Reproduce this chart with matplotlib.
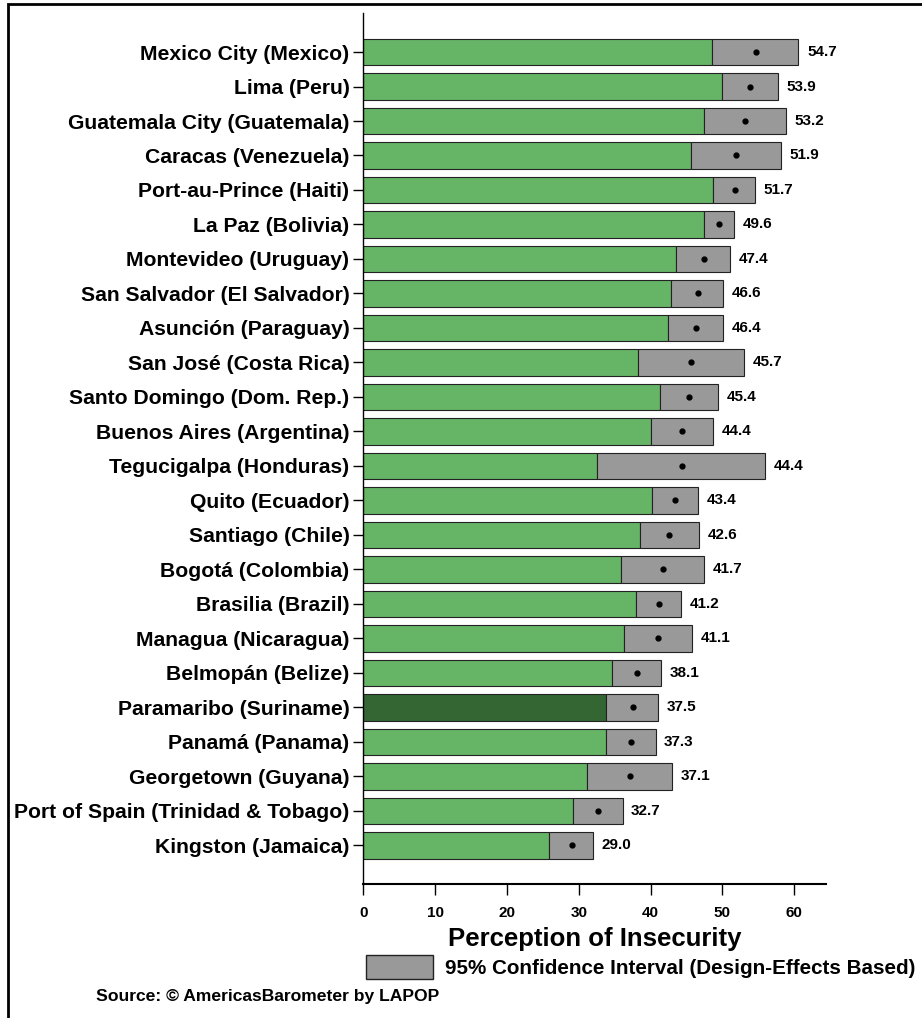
import matplotlib
matplotlib.use("Agg")
import matplotlib.pyplot as plt
from matplotlib.patches import Rectangle

plt.rcParams['font.family'] = ['Liberation Sans', 'DejaVu Sans']
plt.rcParams['font.weight'] = 'bold'

# Data (top to bottom)
cities = ["Mexico City (Mexico)", "Lima (Peru)", "Guatemala City (Guatemala)",
          "Caracas (Venezuela)", "Port-au-Prince (Haiti)", "La Paz (Bolivia)",
          "Montevideo (Uruguay)", "San Salvador (El Salvador)", "Asunción (Paraguay)",
          "San José (Costa Rica)", "Santo Domingo (Dom. Rep.)", "Buenos Aires (Argentina)",
          "Tegucigalpa (Honduras)", "Quito (Ecuador)", "Santiago (Chile)",
          "Bogotá (Colombia)", "Brasilia (Brazil)", "Managua (Nicaragua)",
          "Belmopán (Belize)", "Paramaribo (Suriname)", "Panamá (Panama)",
          "Georgetown (Guyana)", "Port of Spain (Trinidad & Tobago)", "Kingston (Jamaica)"]
means = [54.7, 53.9, 53.2, 51.9, 51.7, 49.6, 47.4, 46.6, 46.4, 45.7, 45.4, 44.4,
         44.4, 43.4, 42.6, 41.7, 41.2, 41.1, 38.1, 37.5, 37.3, 37.1, 32.7, 29.0]
ci_low = [48.6, 49.9, 47.4, 45.7, 48.7, 47.4, 43.6, 42.9, 42.5, 38.2, 41.3, 40.1,
          32.6, 40.2, 38.6, 35.9, 38.0, 36.3, 34.7, 33.8, 33.8, 31.2, 29.2, 25.9]
ci_high = [60.6, 57.7, 58.8, 58.1, 54.5, 51.6, 51.1, 50.1, 50.1, 53.0, 49.4, 48.7,
           56.0, 46.6, 46.7, 47.4, 44.3, 45.8, 41.4, 41.0, 40.7, 43.0, 36.1, 32.0]
highlight = "Paramaribo (Suriname)"

green = "#66b466"
dark_green = "#336633"
grey = "#999999"

fig = plt.figure(figsize=(9.22, 10.18), dpi=100)
ax = fig.add_axes([0.394, 0.1316, 0.5016, 0.8556])

ypos = list(range(len(cities)))
colors = [dark_green if c == highlight else green for c in cities]
ax.barh(ypos, ci_low, height=0.77, color=colors, edgecolor="#222222", linewidth=0.8)
widths = [h - l for l, h in zip(ci_low, ci_high)]
ax.barh(ypos, widths, left=ci_low, height=0.77, color=grey, edgecolor="#222222", linewidth=0.8)
ax.plot(means, ypos, "o", color="black", markersize=3.5)

for y, m, h in zip(ypos, means, ci_high):
    ax.text(h + 1.2, y, f"{m:.1f}", va="center", ha="left", fontsize=11, fontweight="bold")

ax.set_yticks(ypos)
ax.set_yticklabels(cities, fontsize=15.2, fontweight="bold")
ax.set_ylim(len(cities) - 1 + 1.12, -1.13)
ax.set_xlim(0, 64.4)
ax.set_xticks([0, 10, 20, 30, 40, 50, 60])
ax.tick_params(axis="x", direction="out", length=8, width=1, labelsize=11, pad=8)
ax.tick_params(axis="y", direction="out", length=7, width=1, pad=3)
for lbl in ax.get_xticklabels():
    lbl.set_fontweight("bold")
ax.spines["top"].set_visible(False)
ax.spines["right"].set_visible(False)
ax.spines["left"].set_linewidth(1)
ax.spines["bottom"].set_linewidth(1.5)
ax.set_xlabel("Perception of Insecurity", fontsize=18.5, fontweight="bold", labelpad=5)

# legend patch and text
fig.add_artist(Rectangle((366 / 922, 1 - 979 / 1018), 67 / 922, 24 / 1018,
                         facecolor=grey, edgecolor="#222222", linewidth=1,
                         transform=fig.transFigure))
fig.text(445 / 922, 1 - 968 / 1018, "95% Confidence Interval (Design-Effects Based)",
         ha="left", va="center", fontsize=14.9, fontweight="bold")
fig.text(96 / 922, 1 - 997 / 1018, "Source: © AmericasBarometer by LAPOP",
         ha="left", va="center", fontsize=12.6, fontweight="bold")

# outer frame, cut off on the right and bottom
fig.add_artist(Rectangle((8 / 922, -0.1), 1.2, 1.1 - 4 / 1018, fill=False,
                         edgecolor="black", linewidth=2.0, transform=fig.transFigure,
                         clip_on=False))

plt.savefig("out.png", dpi=100)
